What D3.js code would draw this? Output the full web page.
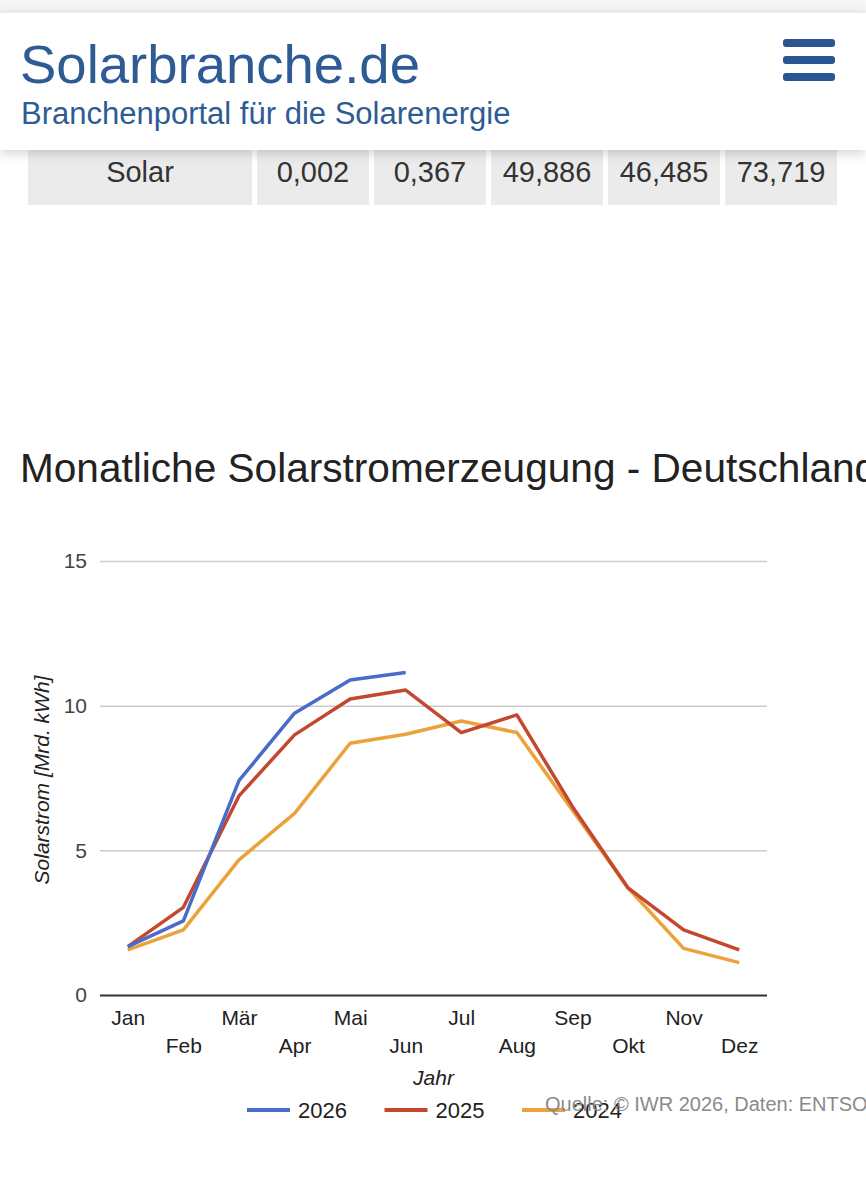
<!DOCTYPE html>
<html lang="de">

<head>
  <meta charset="utf-8">
  <title>Monatliche Solarstromerzeugung - Deutschland</title>
  <script type="text/javascript" src="https://d3js.org/d3.v7.min.js"></script>
  <style type="text/css">
    body {
      margin: 0;
      background: #fff;
      font-family: "Liberation Sans", Arial, Helvetica, sans-serif;
    }

    svg text {
      font-family: "Liberation Sans", Arial, Helvetica, sans-serif;
    }
  </style>
</head>

<body>
  <div id="page"></div>
  <script type="text/javascript">

    //Chart data
    const months = ['Jan', 'Feb', 'Mär', 'Apr', 'Mai', 'Jun', 'Jul', 'Aug', 'Sep', 'Okt', 'Nov', 'Dez']
    const years = ['2026', '2025', '2024']
    const values2026 = [1.67, 2.56, 7.41, 9.74, 10.89, 11.15]
    const values2025 = [1.67, 3.03, 6.88, 8.99, 10.23, 10.54, 9.07, 9.68, 6.51, 3.70, 2.25, 1.56]
    const values2024 = [1.56, 2.25, 4.67, 6.28, 8.70, 9.01, 9.47, 9.07, 6.39, 3.70, 1.61, 1.12]
    const yTicks = [0, 5, 10, 15]
    const seriesColors = ['#4a6cc8', '#c4472f', '#eca23a']

    //Row of the table that peeks out under the sticky header
    const tableLabel = 'Solar'
    const tableValues = ['0,002', '0,367', '49,886', '46,485', '73,719']

    const width = 866
    const height = 1200

    const svg = d3.select('#page')
      .append('svg')
      .attr('width', width)
      .attr('height', height)

    //shadow under the header bar
    const defs = svg.append('defs')
    const shadow = defs.append('filter')
      .attr('id', 'headShadow')
      .attr('x', '-5%').attr('y', '-20%')
      .attr('width', '110%').attr('height', '150%')
    shadow.append('feDropShadow')
      .attr('dx', 0).attr('dy', 3)
      .attr('stdDeviation', 6)
      .attr('flood-color', '#000')
      .attr('flood-opacity', 0.18)

    // ---------- table row ----------
    const table = svg.append('g')
    const colX = d3.scaleBand()
      .domain(tableValues)
      .range([257, 837])
      .paddingInner(0.044)

    table.append('rect')
      .attr('x', 28).attr('y', 110)
      .attr('width', 224).attr('height', 95)
      .attr('fill', '#ebebeb')
    table.append('text')
      .attr('x', 140).attr('y', 182)
      .attr('text-anchor', 'middle')
      .attr('font-size', 29)
      .attr('fill', '#333')
      .text(tableLabel)

    table.selectAll('rect.cell')
      .data(tableValues)
      .enter()
      .append('rect')
      .attr('class', 'cell')
      .attr('x', d => colX(d))
      .attr('y', 110)
      .attr('width', colX.bandwidth())
      .attr('height', 95)
      .attr('fill', '#ebebeb')

    table.selectAll('text.cell')
      .data(tableValues)
      .enter()
      .append('text')
      .attr('class', 'cell')
      .attr('x', d => colX(d) + colX.bandwidth() / 2)
      .attr('y', 182)
      .attr('text-anchor', 'middle')
      .attr('font-size', 29)
      .attr('fill', '#333')
      .text(d => d)

    // ---------- header ----------
    svg.append('rect')
      .attr('x', 0).attr('y', 0)
      .attr('width', width).attr('height', 12)
      .attr('fill', '#f6f6f6')

    svg.append('rect')
      .attr('x', 0).attr('y', 12)
      .attr('width', width).attr('height', 138)
      .attr('fill', '#fff')
      .attr('filter', 'url(#headShadow)')

    svg.append('line')
      .attr('x1', 0).attr('x2', width)
      .attr('y1', 12).attr('y2', 12)
      .attr('stroke', '#e2e2e2')

    svg.append('text')
      .attr('x', 20).attr('y', 83)
      .attr('font-size', 54.5)
      .attr('fill', '#2e5b93')
      .text('Solarbranche.de')

    svg.append('text')
      .attr('x', 21).attr('y', 124)
      .attr('font-size', 31)
      .attr('fill', '#2e5b93')
      .text('Branchenportal für die Solarenergie')

    //hamburger menu
    svg.selectAll('rect.burger')
      .data([0, 1, 2])
      .enter()
      .append('rect')
      .attr('class', 'burger')
      .attr('x', 783)
      .attr('y', d => 39 + d * 17)
      .attr('width', 52)
      .attr('height', 8)
      .attr('rx', 3)
      .attr('fill', '#2a5592')

    // ---------- chart ----------
    svg.append('text')
      .attr('x', 20).attr('y', 482)
      .attr('font-size', 40.6)
      .attr('fill', '#222')
      .text('Monatliche Solarstromerzeugung - Deutschland')

    const plot = { left: 100, right: 767, top: 561, bottom: 995 }

    const x = d3.scalePoint()
      .domain(months)
      .range([plot.left, plot.right])
      .padding(0.5)

    const y = d3.scaleLinear()
      .domain([0, 15])
      .range([plot.bottom, plot.top])

    //gridlines + y labels
    const yAxis = svg.append('g')
      .attr('transform', `translate(${plot.left},0)`)
      .call(d3.axisLeft(y)
        .tickValues(yTicks)
        .tickSize(-(plot.right - plot.left))
        .tickPadding(13)
        .tickFormat(d3.format('d')))

    yAxis.select('.domain').remove()
    yAxis.selectAll('.tick line')
      .attr('stroke', d => d === 0 ? '#333' : '#cccccc')
      .attr('stroke-width', d => d === 0 ? 2 : 1.5)
    yAxis.selectAll('.tick text')
      .attr('font-size', 21)
      .attr('fill', '#444')

    //y axis title
    svg.append('text')
      .attr('transform', `translate(49,${(plot.top + plot.bottom) / 2 + 2}) rotate(-90)`)
      .attr('text-anchor', 'middle')
      .attr('font-size', 21)
      .attr('font-style', 'italic')
      .attr('fill', '#222')
      .text('Solarstrom [Mrd. kWh]')

    //x labels alternate between two rows
    const xAxis = svg.append('g')
      .attr('transform', `translate(0,${plot.bottom})`)
      .call(d3.axisBottom(x).tickSize(0).tickPadding(0))

    xAxis.select('.domain').remove()
    xAxis.selectAll('.tick text')
      .attr('font-size', 21)
      .attr('fill', '#222')
      .attr('dy', null)
      .attr('y', (d, i) => i % 2 === 0 ? 30 : 58)

    svg.append('text')
      .attr('x', (plot.left + plot.right) / 2)
      .attr('y', 1085)
      .attr('text-anchor', 'middle')
      .attr('font-size', 21)
      .attr('font-style', 'italic')
      .attr('fill', '#222')
      .text('Jahr')

    //lines
    const series = [values2026, values2025, values2024]
    const line = d3.line()
      .x((d, i) => x(months[i]))
      .y(d => y(d))

    //draw oldest first so 2026 is on top
    series.slice().reverse().forEach((vals, k) => {
      const idx = series.length - 1 - k
      svg.append('path')
        .datum(vals)
        .attr('d', line)
        .attr('fill', 'none')
        .attr('stroke', seriesColors[idx])
        .attr('stroke-width', 3.5)
        .attr('stroke-linejoin', 'round')
    })

    //legend
    const legendX = d3.scalePoint()
      .domain(years)
      .range([247, 522])

    const legend = svg.selectAll('g.legend')
      .data(years)
      .enter()
      .append('g')
      .attr('class', 'legend')
      .attr('transform', d => `translate(${legendX(d)},1110)`)

    legend.append('line')
      .attr('x1', 0).attr('x2', 43)
      .attr('stroke', (d, i) => seriesColors[i])
      .attr('stroke-width', 4)

    //source note sits on top of the legend like in the original
    svg.append('text')
      .attr('x', 545).attr('y', 1111)
      .attr('font-size', 20)
      .attr('fill', '#8a8a8a')
      .text('Quelle: © IWR 2026, Daten: ENTSO-E')

    legend.append('text')
      .attr('x', 51).attr('y', 8)
      .attr('font-size', 22)
      .attr('fill', '#222')
      .text(d => d)

  </script>
</body>

</html>
